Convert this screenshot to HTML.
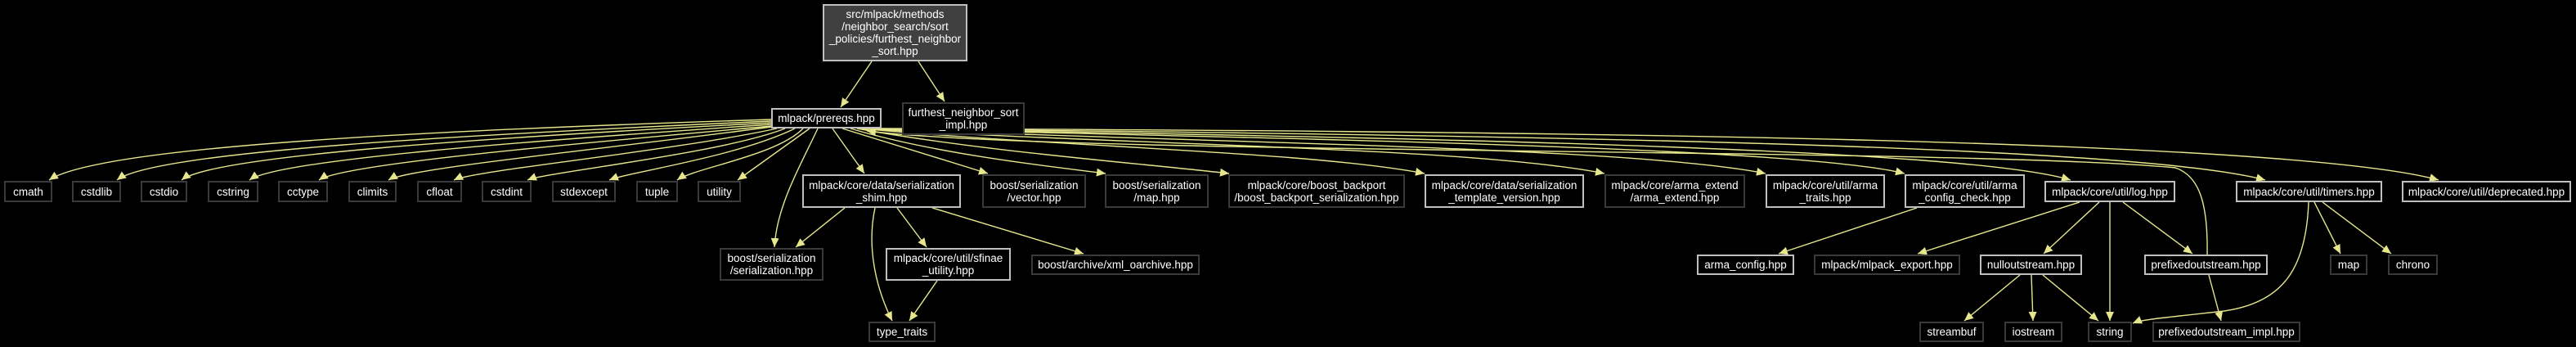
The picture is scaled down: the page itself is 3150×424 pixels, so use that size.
<!DOCTYPE html>
<html><head><meta charset="utf-8"><style>
html,body{margin:0;padding:0;background:#000;}
body{width:3150px;height:424px;position:relative;overflow:hidden;font-family:"Liberation Sans",sans-serif;}
.n{position:absolute;box-sizing:border-box;border:2px solid #bfbfbf;color:#fff;font-size:13.5px;line-height:15px;text-align:center;display:flex;align-items:center;justify-content:center;white-space:pre;background:#000;}
.d{border-color:#3a3a3a;}
.t{background:#404040;}
svg{position:absolute;left:0;top:0;}
</style></head><body>
<svg width="3150" height="424" viewBox="0 0 3150 424">
<defs><marker id="a" markerUnits="userSpaceOnUse" markerWidth="12" markerHeight="10" refX="11" refY="5" orient="auto"><path d="M0,0 L11,5 L0,10 z" fill="#e6e68c"/></marker></defs>
<g fill="none" stroke="#e6e68c" stroke-width="1.4" marker-end="url(#a)">
<path d="M1066,75 L1028,131"/>
<path d="M1123,75 L1155,124"/>
<path d="M943,146 C500,160 120,180 60,220"/>
<path d="M943,148 C560,165 190,185 143,220"/>
<path d="M943,150 C600,168 260,190 222,220"/>
<path d="M943,152 C650,172 340,195 305,220"/>
<path d="M943,154 C700,176 420,200 390,220"/>
<path d="M943,155 C760,180 500,205 475,220"/>
<path d="M950,157 C820,185 580,208 555,220"/>
<path d="M960,157 C880,188 670,210 645,220"/>
<path d="M972,157 C900,192 770,210 745,220"/>
<path d="M982,157 C950,190 850,205 828,220"/>
<path d="M990,157 L902,220"/>
<path d="M1000,157 C980,200 950,250 947,302"/>
<path d="M1018,157 L1057,212"/>
<path d="M1030,157 L1208,212"/>
<path d="M1040,157 C1150,190 1300,205 1352,212"/>
<path d="M1048,157 C1200,185 1400,200 1503,212"/>
<path d="M1052,157 C1300,180 1600,185 1742,212"/>
<path d="M1055,157 C1400,178 1800,180 1962,212"/>
<path d="M1058,157 C1500,175 2000,180 2159,212"/>
<path d="M1060,157 C1600,170 2200,180 2329,212"/>
<path d="M1062,157 C1700,168 2400,180 2532,220"/>
<path d="M1065,157 C1800,165 2600,175 2770,220"/>
<path d="M1068,157 C1900,160 2800,170 2982,220"/>
<path d="M2699,311 C2700,250 2690,215 2660,205 C2400,180 1300,190 1060,160"/>
<path d="M1033,254 L973,302"/>
<path d="M1070,254 C1060,300 1070,350 1091,392"/>
<path d="M1097,254 L1133,302"/>
<path d="M1140,254 L1325,310"/>
<path d="M1146,343 L1112,392"/>
<path d="M2344,254 L2175,310"/>
<path d="M2543,247 L2345,310"/>
<path d="M2567,247 L2499,310"/>
<path d="M2580,247 L2580,392"/>
<path d="M2596,247 L2681,310"/>
<path d="M2470,336 L2402,392"/>
<path d="M2484,336 L2486,392"/>
<path d="M2498,336 L2566,392"/>
<path d="M2701,336 L2716,392"/>
<path d="M2823,247 C2820,330 2790,370 2720,380 C2650,388 2620,390 2608,395"/>
<path d="M2830,247 L2862,310"/>
<path d="M2840,247 L2924,310"/>
</g>
</svg>
<div class="n t" style="left:1006px;top:5px;width:177px;height:70px;">src/mlpack/methods
/neighbor_search/sort
_policies/furthest_neighbor
_sort.hpp</div>
<div class="n" style="left:943px;top:132px;width:135px;height:25px;">mlpack/prereqs.hpp</div>
<div class="n d" style="left:1103px;top:125px;width:150px;height:40px;">furthest_neighbor_sort
_impl.hpp</div>

<div class="n d" style="left:5px;top:221px;width:59px;height:26px;">cmath</div>
<div class="n d" style="left:88px;top:221px;width:60px;height:26px;">cstdlib</div>
<div class="n d" style="left:172px;top:221px;width:57px;height:26px;">cstdio</div>
<div class="n d" style="left:254px;top:221px;width:62px;height:26px;">cstring</div>
<div class="n d" style="left:340px;top:221px;width:61px;height:26px;">cctype</div>
<div class="n d" style="left:426px;top:221px;width:59px;height:26px;">climits</div>
<div class="n d" style="left:510px;top:221px;width:55px;height:26px;">cfloat</div>
<div class="n d" style="left:589px;top:221px;width:61px;height:26px;">cstdint</div>
<div class="n d" style="left:675px;top:221px;width:78px;height:26px;">stdexcept</div>
<div class="n d" style="left:778px;top:221px;width:51px;height:26px;">tuple</div>
<div class="n d" style="left:853px;top:221px;width:53px;height:26px;">utility</div>
<div class="n" style="left:981px;top:213px;width:194px;height:41px;">mlpack/core/data/serialization
_shim.hpp</div>
<div class="n d" style="left:1201px;top:213px;width:127px;height:41px;">boost/serialization
/vector.hpp</div>
<div class="n d" style="left:1351px;top:213px;width:127px;height:41px;">boost/serialization
/map.hpp</div>
<div class="n d" style="left:1502px;top:213px;width:216px;height:41px;">mlpack/core/boost_backport
/boost_backport_serialization.hpp</div>
<div class="n" style="left:1742px;top:213px;width:195px;height:41px;">mlpack/core/data/serialization
_template_version.hpp</div>
<div class="n d" style="left:1962px;top:213px;width:172px;height:41px;">mlpack/core/arma_extend
/arma_extend.hpp</div>
<div class="n" style="left:2159px;top:213px;width:146px;height:41px;">mlpack/core/util/arma
_traits.hpp</div>
<div class="n" style="left:2329px;top:213px;width:147px;height:41px;">mlpack/core/util/arma
_config_check.hpp</div>
<div class="n" style="left:2500px;top:221px;width:160px;height:26px;">mlpack/core/util/log.hpp</div>
<div class="n" style="left:2734px;top:221px;width:179px;height:26px;">mlpack/core/util/timers.hpp</div>
<div class="n" style="left:2937px;top:221px;width:207px;height:26px;">mlpack/core/util/deprecated.hpp</div>

<div class="n d" style="left:880px;top:303px;width:127px;height:40px;">boost/serialization
/serialization.hpp</div>
<div class="n" style="left:1083px;top:303px;width:153px;height:40px;">mlpack/core/util/sfinae
_utility.hpp</div>
<div class="n d" style="left:1261px;top:311px;width:206px;height:25px;">boost/archive/xml_oarchive.hpp</div>
<div class="n" style="left:2075px;top:311px;width:119px;height:25px;">arma_config.hpp</div>
<div class="n d" style="left:2218px;top:311px;width:179px;height:25px;">mlpack/mlpack_export.hpp</div>
<div class="n" style="left:2421px;top:311px;width:125px;height:25px;">nulloutstream.hpp</div>
<div class="n" style="left:2622px;top:311px;width:151px;height:25px;">prefixedoutstream.hpp</div>
<div class="n d" style="left:2849px;top:311px;width:46px;height:25px;">map</div>
<div class="n d" style="left:2920px;top:311px;width:61px;height:25px;">chrono</div>

<div class="n d" style="left:1062px;top:393px;width:82px;height:25px;">type_traits</div>
<div class="n d" style="left:2347px;top:393px;width:79px;height:25px;">streambuf</div>
<div class="n d" style="left:2451px;top:393px;width:71px;height:25px;">iostream</div>
<div class="n d" style="left:2553px;top:393px;width:54px;height:25px;">string</div>
<div class="n d" style="left:2632px;top:393px;width:181px;height:25px;">prefixedoutstream_impl.hpp</div>
</body></html>
